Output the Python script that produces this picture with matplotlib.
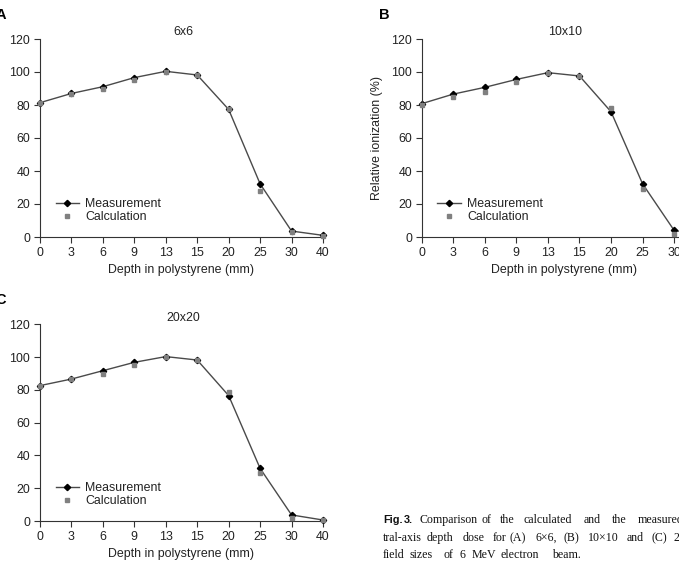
import numpy as np
import matplotlib
matplotlib.use("Agg")
import matplotlib.pyplot as plt

plt.rcParams['font.family'] = ['Liberation Sans', 'DejaVu Sans']

depths = ['0', '3', '6', '9', '13', '15', '20', '25', '30', '40']

# 6x6 field
meas_a = [81.4, 87.0, 91.1, 96.6, 100.4, 98.2, 77.3, 32.2, 3.6, 1.0]
calc_a = [81.2, 86.6, 89.5, 95.1, 100.2, 98.0, 77.3, 28.1, 3.0, 0.8]
# 10x10 field
meas_b = [80.8, 86.6, 90.7, 95.5, 99.6, 97.6, 75.9, 32.2, 4.0, 1.0]
calc_b = [79.8, 85.0, 87.9, 93.9, 99.6, 97.6, 77.9, 29.1, 2.0, 0.5]
# 20x20 field
meas_c = [82.6, 86.6, 91.7, 96.8, 100.3, 98.2, 76.5, 32.1, 3.7, 0.6]
calc_c = [82.6, 86.4, 89.9, 95.0, 100.1, 98.2, 78.5, 29.1, 1.8, 0.4]

W, H = 679, 562
fig = plt.figure(figsize=(W / 100, H / 100), dpi=100)

def px_axes(left, top, width, height):
    return fig.add_axes([left / W, 1 - (top + height) / H, width / W, height / H])

FS = 8.9
LINE_C = '#4a4a4a'
TXT_C = '#222222'

def panel(ax, meas, calc, title):
    x = np.arange(len(depths))
    ax.plot(x, meas, '-', color=LINE_C, lw=1.0, marker='D', ms=3.2,
            mfc='black', mec='black', label='Measurement', clip_on=False, zorder=2)
    ax.plot(x, calc, 's', color='#808080', ms=3.3, ls='none',
            label='Calculation', clip_on=False, zorder=3)
    ax.set_xlim(0, len(depths) - 1)
    ax.set_ylim(0, 120)
    ax.set_xticks(x)
    ax.set_xticklabels(depths)
    ax.set_yticks(range(0, 121, 20))
    for s in ['top', 'right']:
        ax.spines[s].set_visible(False)
    for s in ['left', 'bottom']:
        ax.spines[s].set_color('#333333')
        ax.spines[s].set_linewidth(0.8)
    ax.tick_params(direction='out', length=4, width=0.8, color='#333333',
                   labelsize=FS, labelcolor=TXT_C, pad=3)
    ax.set_xlabel('Depth in polystyrene (mm)', fontsize=FS, color=TXT_C, labelpad=4)
    ax.set_ylabel('Relative ionization (%)', fontsize=FS, color=TXT_C, labelpad=6)
    ax.text(0.505, 1.034, title, transform=ax.transAxes, ha='center', va='center',
            fontsize=FS, color=TXT_C)
    ax.legend(loc='lower left', bbox_to_anchor=(0.055, 0.07), frameon=False,
              fontsize=FS, numpoints=1, handlelength=1.9, handletextpad=0.5,
              labelspacing=0.1, borderpad=0, borderaxespad=0, labelcolor=TXT_C)

ax_a = px_axes(40, 39, 283, 198)
ax_b = px_axes(421.7, 39, 284, 198)
ax_c = px_axes(40, 324.3, 283, 196.7)

panel(ax_a, meas_a, calc_a, '6x6')
panel(ax_b, meas_b, calc_b, '10x10')
panel(ax_c, meas_c, calc_c, '20x20')

for lbl, px, py in [('A', -4, 15), ('B', 379, 15), ('C', -5, 300)]:
    fig.text(px / W, 1 - py / H, lbl, fontsize=10.5, fontweight='bold', va='center', ha='left')

# caption, words placed as in the page layout
caption = [
    (520, [(383, 'Fig.'), (404, '3.'), (419, 'Comparison'), (481, 'of'), (500, 'the'),
           (524, 'calculated'), (584, 'and'), (612, 'the'), (638, 'measured')]),
    (538, [(383, 'tral-axis'), (427, 'depth'), (463, 'dose'), (493, 'for'), (510, '(A)'),
           (535, '6\u00d76,'), (564, '(B)'), (588, '10\u00d710'), (627, 'and'), (652, '(C)'),
           (673, '20\u00d720')]),
    (555, [(383, 'field'), (409, 'sizes'), (443, 'of'), (460, '6'), (472, 'MeV'),
           (500, 'electron'), (552, 'beam.')]),
]
for i, (py, words) in enumerate(caption):
    for j, (px, w) in enumerate(words):
        if i == 0 and j < 2:
            fig.text(px / W, 1 - py / H, w, fontsize=7.8, fontweight='bold',
                     va='center', ha='left', color='#111111')
        else:
            fig.text(px / W, 1 - py / H, w, fontsize=8.6, family=['Liberation Serif'],
                     va='center', ha='left', color='#111111')

fig.savefig('out.png', dpi=100)
